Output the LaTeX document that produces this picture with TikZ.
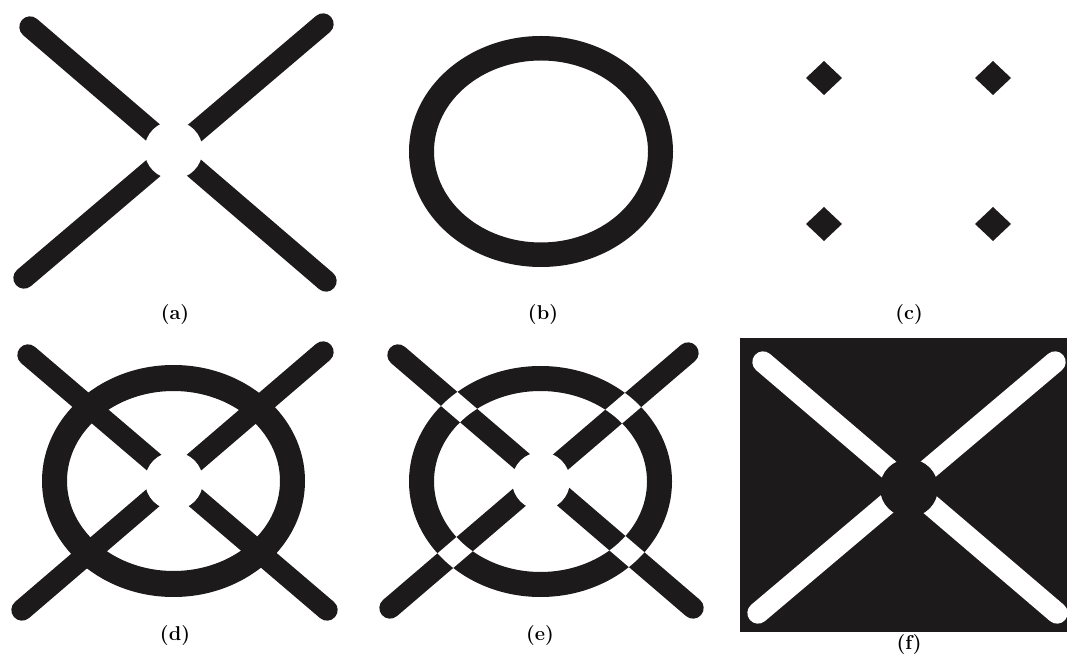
\documentclass[tikz,border=0pt]{standalone}
\definecolor{ink}{HTML}{1C1A1A}
\begin{document}
\begin{tikzpicture}[x=0.75pt,y=-0.75pt,
  bar/.style={line width=16pt,line cap=round},
  lbl/.style={font=\fontsize{15}{17}\selectfont\bfseries, inner sep=0pt}]
\useasboundingbox (0,0) rectangle (1067,655);
\fill[white] (0,0) rectangle (1067,655);
% (a)
\draw[bar,ink] (30,27) -- (326,281);
\draw[bar,ink] (323,24) -- (24,278);
\fill[white] (173.5,150) circle[radius=29];
\node[lbl] (la) at (175,315) {(a)};
% (b)
\fill[ink,even odd rule] (541,151.5) ellipse[x radius=132,y radius=115.5]
  (541,151.5) ellipse[x radius=107,y radius=91];
\node[lbl] (lb) at (543,315) {(b)};
% (c)
\foreach \px/\py in {824/78,993/78,824/224,993/224}
  \fill[ink] (\px-18,\py) -- (\px,\py-17) -- (\px+18,\py) -- (\px,\py+17) -- cycle;
\node[lbl] (lc) at (909,315) {(c)};
% (d)
\fill[ink,even odd rule] (173.5,481) ellipse[x radius=131.5,y radius=116]
  (173.5,481) ellipse[x radius=106.5,y radius=90];
\draw[bar,ink] (28,355) -- (327,610);
\draw[bar,ink] (323,352) -- (22,610);
\fill[white] (174,481) circle[radius=29];
\node[lbl] (ld) at (175,636) {(d)};
% (e)
\fill[ink,even odd rule] (540.5,481.5) ellipse[x radius=131.5,y radius=115.5]
  (540.5,481.5) ellipse[x radius=106.5,y radius=90.5];
\draw[bar,ink] (398,355) -- (693,608);
\draw[bar,ink] (688,353) -- (390,608);
\begin{scope}[even odd rule]
  \clip (540.5,481.5) ellipse[x radius=131.5,y radius=115.5]
    (540.5,481.5) ellipse[x radius=106.5,y radius=90.5];
  \draw[bar,white] (398,355) -- (693,608);
  \draw[bar,white] (688,353) -- (390,608);
\end{scope}
\fill[white] (541,481) circle[radius=29];
\node[lbl] (le) at (540,636) {(e)};
% (f)
\fill[ink] (740,338) rectangle (1067,632);
\draw[bar,white] (763,362) -- (1057,613);
\draw[bar,white] (1055,362) -- (758,613);
\fill[ink] (909,488) circle[radius=29];
\node[lbl] (lf) at (909,645) {(f)};
\end{tikzpicture}
\end{document}
